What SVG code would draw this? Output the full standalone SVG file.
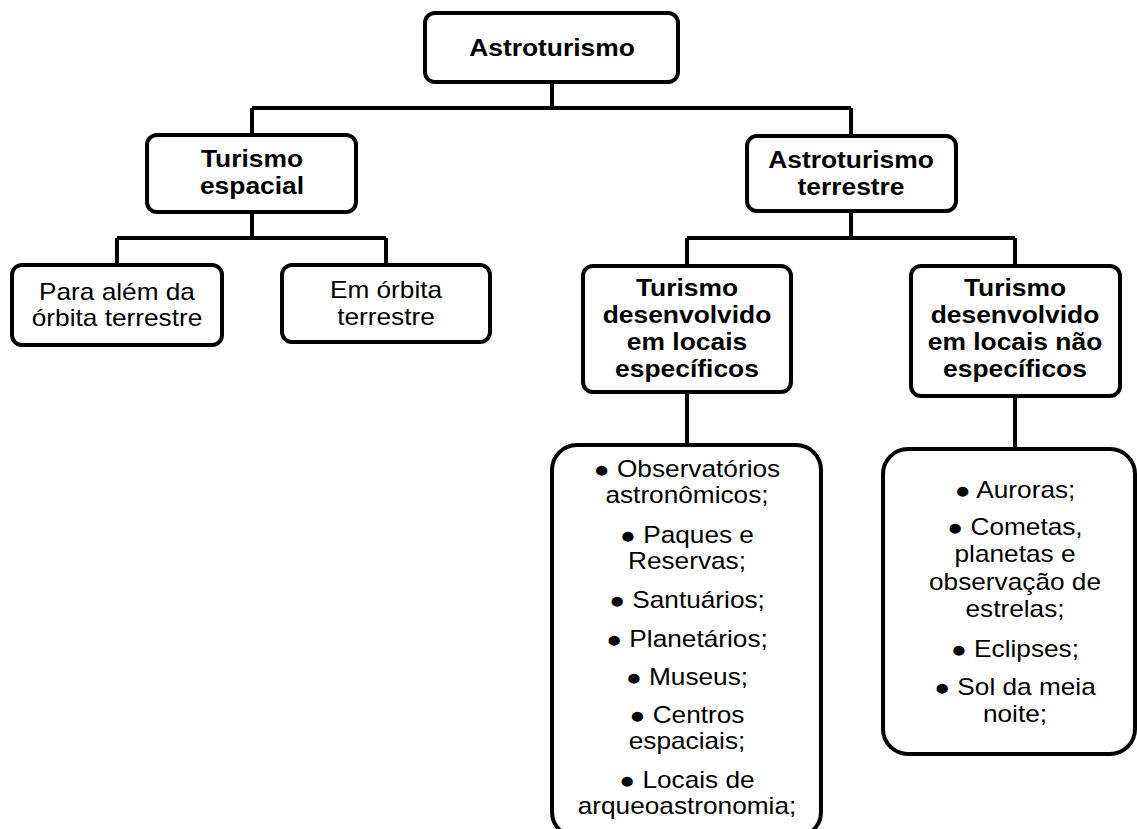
<svg xmlns="http://www.w3.org/2000/svg" width="1137" height="829" viewBox="0 0 1137 829">
<style>
.box{fill:#fff;stroke:#000;stroke-width:4}
.ln{fill:none;stroke:#000;stroke-width:4}
text{font-family:"Liberation Sans",Arial,sans-serif;fill:#000;text-anchor:middle}
.r{font-size:23px}
.b{font-size:24px;font-weight:bold}
</style>
<rect width="1137" height="829" fill="#fff"/>
<g id="connectors">
<path class="ln" d="M552 82V108M252 108H851M252 108V135M851 108V136"/>
<path class="ln" d="M252 212V238M117 238H386M117 238V265M386 238V265"/>
<path class="ln" d="M851 211V238M687 238H1015M687 238V266M1015 238V266"/>
<path class="ln" d="M687 392V445M1015 396V449"/>
</g>
<g id="astroturismo">
<rect class="box" x="425" y="13" width="253" height="69" rx="10"/>
<text class="b" transform="translate(552 56) scale(1.1 1)">Astroturismo</text>
</g>
<g id="turismo-espacial">
<rect class="box" x="147" y="135" width="209" height="77" rx="10"/>
<text class="b" transform="translate(252 167) scale(1.1 1)">Turismo</text>
<text class="b" transform="translate(252 194) scale(1.1 1)">espacial</text>
</g>
<g id="astroturismo-terrestre">
<rect class="box" x="747" y="136" width="209" height="75" rx="10"/>
<text class="b" transform="translate(851 168) scale(1.1 1)">Astroturismo</text>
<text class="b" transform="translate(851 195) scale(1.1 1)">terrestre</text>
</g>
<g id="para-alem">
<rect class="box" x="12" y="265" width="210" height="80" rx="10"/>
<text class="r" transform="translate(117 300) scale(1.14 1)">Para além da</text>
<text class="r" transform="translate(117 326) scale(1.14 1)">órbita terrestre</text>
</g>
<g id="em-orbita">
<rect class="box" x="282" y="265" width="208" height="77" rx="10"/>
<text class="r" transform="translate(386 298) scale(1.14 1)">Em órbita</text>
<text class="r" transform="translate(386 325) scale(1.14 1)">terrestre</text>
</g>
<g id="locais-especificos">
<rect class="box" x="583" y="266" width="208" height="126" rx="10"/>
<text class="b" transform="translate(687 296) scale(1.1 1)">Turismo</text>
<text class="b" transform="translate(687 323) scale(1.1 1)">desenvolvido</text>
<text class="b" transform="translate(687 350) scale(1.1 1)">em locais</text>
<text class="b" transform="translate(687 377) scale(1.1 1)">específicos</text>
</g>
<g id="locais-nao-especificos">
<rect class="box" x="911" y="266" width="209" height="130" rx="10"/>
<text class="b" transform="translate(1015 296) scale(1.1 1)">Turismo</text>
<text class="b" transform="translate(1015 323) scale(1.1 1)">desenvolvido</text>
<text class="b" transform="translate(1015 350) scale(1.1 1)">em locais não</text>
<text class="b" transform="translate(1015 377) scale(1.1 1)">específicos</text>
</g>
<g id="lista-especificos">
<rect class="box" x="552" y="445" width="269" height="392" rx="25"/>
<text class="r" transform="translate(687 477) scale(1.14 1)">● Observatórios</text>
<text class="r" transform="translate(687 503) scale(1.14 1)">astronômicos;</text>
<text class="r" transform="translate(687 543) scale(1.14 1)">● Paques e</text>
<text class="r" transform="translate(687 569) scale(1.14 1)">Reservas;</text>
<text class="r" transform="translate(687 608) scale(1.14 1)">● Santuários;</text>
<text class="r" transform="translate(687 647) scale(1.14 1)">● Planetários;</text>
<text class="r" transform="translate(687 685) scale(1.14 1)">● Museus;</text>
<text class="r" transform="translate(687 723) scale(1.14 1)">● Centros</text>
<text class="r" transform="translate(687 749) scale(1.14 1)">espaciais;</text>
<text class="r" transform="translate(687 788) scale(1.14 1)">● Locais de</text>
<text class="r" transform="translate(687 814) scale(1.14 1)">arqueoastronomia;</text>
</g>
<g id="lista-nao-especificos">
<rect class="box" x="883" y="449" width="252" height="305" rx="25"/>
<text class="r" transform="translate(1015 498) scale(1.14 1)">● Auroras;</text>
<text class="r" transform="translate(1015 535) scale(1.14 1)">● Cometas,</text>
<text class="r" transform="translate(1015 562) scale(1.14 1)">planetas e</text>
<text class="r" transform="translate(1015 590) scale(1.14 1)">observação de</text>
<text class="r" transform="translate(1015 617) scale(1.14 1)">estrelas;</text>
<text class="r" transform="translate(1015 657) scale(1.14 1)">● Eclipses;</text>
<text class="r" transform="translate(1015 695) scale(1.14 1)">● Sol da meia</text>
<text class="r" transform="translate(1015 722) scale(1.14 1)">noite;</text>
</g>
</svg>
